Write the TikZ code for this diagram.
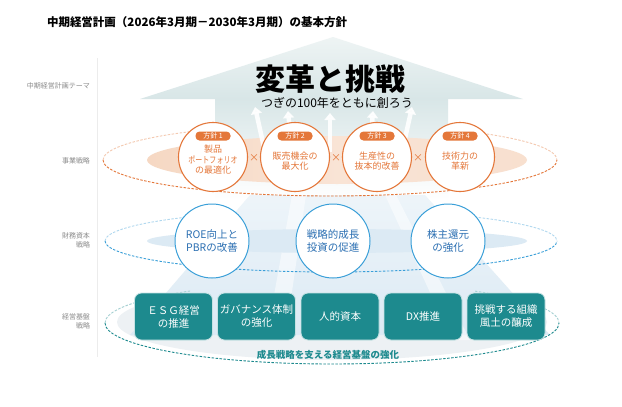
\documentclass[tikz,border=0pt]{standalone}
\usepackage{fontspec}
\setmainfont{Noto Sans CJK JP}
\usetikzlibrary{arrows.meta,shapes.geometric}
\definecolor{orng}{HTML}{E4773A}
\definecolor{peach}{HTML}{F6D8C3}
\definecolor{bluec}{HTML}{3A9FD8}
\definecolor{bluet}{HTML}{2B6FB2}
\definecolor{bluebg}{HTML}{DCEAF4}
\definecolor{tealc}{HTML}{1D8A8E}
\definecolor{labgray}{HTML}{8A8A8A}
\definecolor{roofT}{HTML}{EEF4F4}
\definecolor{roofB}{HTML}{D8E6E7}
\definecolor{floorc}{HTML}{EDF1F4}
\tikzset{
  lbl/.style={font=\fontsize{7}{9}\selectfont, text=labgray, align=right, anchor=east},
  ocirc/.style={circle, draw=orng, line width=1.1pt, fill=white, minimum size=69pt},
  otext/.style={text=orng, align=center, font=\fontsize{9}{10.5}\selectfont},
  otag/.style={rectangle, rounded corners=4pt, fill=orng, text=white, minimum width=35pt, minimum height=9pt, font=\fontsize{7}{7}\selectfont},
  otimes/.style={text=orng, font=\fontsize{10}{10}\selectfont},
  bcirc/.style={circle, draw=bluec, line width=1pt, fill=white, minimum size=74pt, text=bluet, align=center, font=\fontsize{10.5}{12.5}\selectfont},
  tbox/.style={rectangle, rounded corners=7pt, fill=tealc, draw=white!75!tealc, line width=0.8pt, minimum width=78pt, minimum height=47pt, text=white, align=center, font=\fontsize{10.5}{13}\selectfont},
  dash1/.style={dash pattern=on 2.5pt off 1.5pt, line width=0.9pt},
  uparr/.style={white, opacity=0.9, line width=4.5pt, -{Triangle[width=11pt,length=7pt]}}
}
\begin{document}
\begin{tikzpicture}[x=1pt,y=-1pt, every node/.style={inner sep=0pt, outer sep=0pt}]
\useasboundingbox (0,0) rectangle (622,407);
\fill[white] (0,0) rectangle (622,407);

% background house arrow
\shade[top color=roofT, bottom color=roofB] (333,37) -- (523,99) -- (140,99) -- cycle;
\shade[top color=roofB, bottom color=white] (215,98.5) rectangle (448,200);

% floor of base strategy
\fill[floorc] (332,322) ellipse[x radius=215pt, y radius=38pt];
% blue perspective region
\shade[top color=bluebg!50, bottom color=bluebg] (250,195) -- (425,195) -- (550,335) -- (130,335) -- cycle;
\fill[white, opacity=0.5] (292,195) -- (306,195) -- (285,340) -- (266,340) -- cycle;
\fill[white, opacity=0.5] (385,195) -- (396,195) -- (470,340) -- (452,340) -- cycle;
\fill[bluebg] (337,241) ellipse[x radius=190pt, y radius=12pt];

% peach ellipse + arrows
\shade[left color=peach, right color=peach!80, middle color=peach!70] (337,160) ellipse[x radius=190pt, y radius=24pt];
\draw[uparr] (265,152) -- (255,107);
\draw[uparr] (292,152) -- (288,111);
\draw[uparr] (330,152) -- (330,113);
\draw[uparr] (370,152) -- (373,111);
\draw[uparr] (402,152) -- (412,107);

% dashed ellipses: back halves faded and only at the sides
\begin{scope}
\clip (0,0) rectangle (190,407) (475,0) rectangle (622,407);
\draw[dash1, orng!40] (330,160) ++(180:227pt and 36pt) arc[start angle=180, end angle=0, x radius=227pt, y radius=36pt];
\draw[dash1, bluec!40] (331,241) ++(180:226pt and 31pt) arc[start angle=180, end angle=0, x radius=226pt, y radius=31pt];
\draw[dash1, tealc!40] (332,323) ++(180:227pt and 41pt) arc[start angle=180, end angle=0, x radius=227pt, y radius=41pt];
\end{scope}
\draw[dash1, orng] (330,160) ++(180:227pt and 36pt) arc[start angle=180, end angle=360, x radius=227pt, y radius=36pt];
\draw[dash1, bluec] (331,241) ++(180:226pt and 31pt) arc[start angle=180, end angle=360, x radius=226pt, y radius=31pt];
\draw[dash1, tealc] (332,323) ++(180:227pt and 41pt) arc[start angle=180, end angle=360, x radius=227pt, y radius=41pt];

% separator
\draw[gray!15, line width=0.6pt] (97,58) -- (97,357);

% title
\node[anchor=west, font=\bfseries\fontsize{11.5}{14}\selectfont] (title) at (47,22) {中期経営計画（2026年3月期－2030年3月期）の基本方針};

% left labels
\node[lbl] (l1) at (90,86) {中期経営計画テーマ};
\node[lbl] (l2) at (90,161) {事業戦略};
\node[lbl] (l3) at (90,240) {財務資本\\戦略};
\node[lbl] (l4) at (90,321) {経営基盤\\戦略};

% theme
\node[font=\bfseries\fontsize{30}{32}\selectfont] (theme) at (330,79) {変革と挑戦};
\node[font=\fontsize{12}{14}\selectfont] (sub) at (337,103) {つぎの100年をともに創ろう};

% business strategy circles
\node[ocirc] (c1) at (213,157) {};
\node[ocirc] (c2) at (295,157) {};
\node[ocirc] (c3) at (377,157) {};
\node[ocirc] (c4) at (460,157) {};
\node[otag] (t1) at (213,136) {方針 1};
\node[otag] (t2) at (295,136) {方針 2};
\node[otag] (t3) at (377,136) {方針 3};
\node[otag] (t4) at (460,136) {方針 4};
\node[otext] (x1) at (213,160) {製品\\\scalebox{0.78}[1]{ポートフォリオ}\\の最適化};
\node[otext] (x2) at (295,161) {販売機会の\\最大化};
\node[otext] (x3) at (377,161) {生産性の\\抜本的改善};
\node[otext] (x4) at (460,161) {技術力の\\革新};
\node[otimes] (m1) at (254,158) {×};
\node[otimes] (m2) at (336,158) {×};
\node[otimes] (m3) at (418,158) {×};

% financial circles
\node[bcirc] (b1) at (212,241) {ROE向上と\\PBRの改善};
\node[bcirc] (b2) at (333,241) {戦略的成長\\投資の促進};
\node[bcirc] (b3) at (448,241) {株主還元\\の強化};

% base boxes
\node[tbox] (e1) at (173.5,316.5) {ＥＳＧ経営\\の推進};
\node[tbox] (e2) at (256.5,316.5) {ガバナンス体制\\の強化};
\node[tbox] (e3) at (340,316.5) {人的資本};
\node[tbox] (e4) at (423,316.5) {DX推進};
\node[tbox] (e5) at (506,316.5) {挑戦する組織\\風土の醸成};
\node[text=tealc, font=\bfseries\fontsize{9.5}{11}\selectfont] (cap) at (328,355) {成長戦略を支える経営基盤の強化};
\end{tikzpicture}
\end{document}
